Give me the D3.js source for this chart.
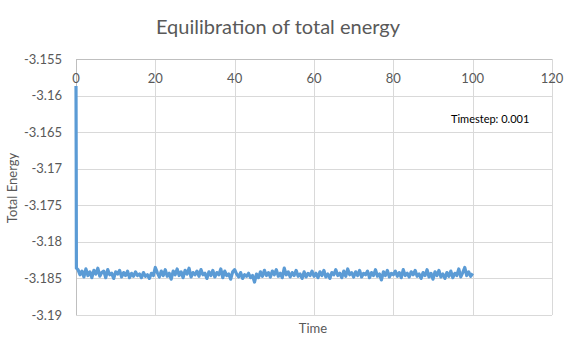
<!DOCTYPE html>
<html>
<head>
<meta charset="utf-8">
<script src="https://cdn.jsdelivr.net/npm/d3@7"></script>
<style>
  body { margin: 0; background: #fff; }
  text { font-family: Lato, "Open Sans", sans-serif; fill: #595959; }
</style>
</head>
<body>
<div id="chart"></div>
<script>
// the fast initial drop
const startTime = [0, 0.05, 0.1];
const startEnergy = [-3.1587, -3.1682, -3.1836];

// equilibrium part, sampled every 0.5 time units from t = 0.5
const timeStep = 0.5;
const energy = [
  -3.1838, -3.1845, -3.1840, -3.1848, -3.1837, -3.1846, -3.1841, -3.1849, -3.1839, -3.1844,
  -3.1836, -3.1847, -3.1842, -3.1840, -3.1849, -3.1838, -3.1845, -3.1843, -3.1850, -3.1841,
  -3.1844, -3.1839, -3.1848, -3.1842, -3.1846, -3.1840, -3.1849, -3.1843, -3.1847, -3.1841,
  -3.1846, -3.1844, -3.1849, -3.1842, -3.1847, -3.1845, -3.1850, -3.1843, -3.1846, -3.1835,
  -3.1842, -3.1848, -3.1840, -3.1846, -3.1838, -3.1847, -3.1843, -3.1851, -3.1840, -3.1845,
  -3.1837, -3.1846, -3.1841, -3.1849, -3.1839, -3.1844, -3.1836, -3.1848, -3.1842, -3.1845,
  -3.1840, -3.1847, -3.1838, -3.1845, -3.1843, -3.1850, -3.1841, -3.1846, -3.1839, -3.1848,
  -3.1842, -3.1845, -3.1837, -3.1849, -3.1840, -3.1846, -3.1844, -3.1851, -3.1841, -3.1838,
  -3.1844, -3.1848, -3.1842, -3.1850, -3.1845, -3.1847, -3.1843, -3.1849, -3.1846, -3.1855,
  -3.1844, -3.1849, -3.1841, -3.1847, -3.1839, -3.1846, -3.1842, -3.1848, -3.1840, -3.1845,
  -3.1838, -3.1847, -3.1843, -3.1849, -3.1836, -3.1845, -3.1841, -3.1848, -3.1842, -3.1846,
  -3.1839, -3.1847, -3.1844, -3.1850, -3.1841, -3.1848, -3.1843, -3.1846, -3.1840, -3.1847,
  -3.1843, -3.1849, -3.1841, -3.1846, -3.1839, -3.1848, -3.1844, -3.1850, -3.1842, -3.1845,
  -3.1838, -3.1846, -3.1843, -3.1849, -3.1840, -3.1847, -3.1837, -3.1845, -3.1842, -3.1848,
  -3.1841, -3.1846, -3.1839, -3.1848, -3.1843, -3.1845, -3.1840, -3.1849, -3.1842, -3.1846,
  -3.1838, -3.1847, -3.1844, -3.1852, -3.1841, -3.1846, -3.1839, -3.1848, -3.1843, -3.1845,
  -3.1840, -3.1847, -3.1842, -3.1849, -3.1838, -3.1846, -3.1843, -3.1848, -3.1841, -3.1845,
  -3.1839, -3.1847, -3.1844, -3.1850, -3.1842, -3.1846, -3.1838, -3.1848, -3.1843, -3.1851,
  -3.1841, -3.1846, -3.1839, -3.1848, -3.1844, -3.1850, -3.1842, -3.1847, -3.1840, -3.1849,
  -3.1843, -3.1846, -3.1837, -3.1848, -3.1842, -3.1835, -3.1846, -3.1841, -3.1847, -3.1843
];
const xTicks = [0, 20, 40, 60, 80, 100, 120];
const yTicks = [-3.155, -3.16, -3.165, -3.17, -3.175, -3.18, -3.185, -3.19];

const series = startTime.map((t, i) => ({ t, e: startEnergy[i] }))
  .concat(energy.map((e, i) => ({ t: (i + 1) * timeStep, e })));

const width = 571, height = 351;
const margin = { top: 59, right: 19, bottom: 36, left: 76 };

const svg = d3.select("#chart").append("svg")
  .attr("width", width)
  .attr("height", height);

const x = d3.scaleLinear().domain([0, 120]).range([margin.left, width - margin.right]);
const y = d3.scaleLinear().domain([-3.155, -3.19]).range([margin.top, height - margin.bottom]);

// gridlines
svg.append("g")
  .selectAll("line")
  .data(yTicks)
  .join("line")
  .attr("x1", x(0)).attr("x2", x(120))
  .attr("y1", d => Math.round(y(d)) + 0.5).attr("y2", d => Math.round(y(d)) + 0.5)
  .attr("stroke", "#d9d9d9");

svg.append("g")
  .selectAll("line")
  .data(xTicks)
  .join("line")
  .attr("y1", y(-3.155)).attr("y2", y(-3.19))
  .attr("x1", d => Math.round(x(d)) + 0.5).attr("x2", d => Math.round(x(d)) + 0.5)
  .attr("stroke", d => d === 0 ? "#bfbfbf" : "#d9d9d9");

// horizontal axis sits on top, since it crosses at -3.155
svg.append("line")
  .attr("x1", x(0)).attr("x2", x(120))
  .attr("y1", Math.round(y(-3.155)) + 0.5).attr("y2", Math.round(y(-3.155)) + 0.5)
  .attr("stroke", "#bfbfbf");

// tick labels
svg.append("g")
  .selectAll("text")
  .data(yTicks)
  .join("text")
  .attr("x", margin.left - 14)
  .attr("y", d => y(d))
  .attr("dy", "0.35em")
  .attr("text-anchor", "end")
  .attr("font-size", 13)
  .text(d => d);

svg.append("g")
  .selectAll("text")
  .data(xTicks)
  .join("text")
  .attr("x", d => x(d))
  .attr("y", y(-3.155) + 19)
  .attr("dy", "0.35em")
  .attr("text-anchor", "middle")
  .attr("font-size", 13)
  .text(d => d);

// series
const line = d3.line()
  .x(d => x(d.t))
  .y(d => y(d.e));

svg.append("path")
  .datum(series)
  .attr("fill", "none")
  .attr("stroke", "#5b9bd5")
  .attr("stroke-width", 3.2)
  .attr("stroke-linejoin", "round")
  .attr("d", line);

// titles
svg.append("text")
  .attr("x", 278)
  .attr("y", 27)
  .attr("dy", "0.35em")
  .attr("text-anchor", "middle")
  .attr("font-size", 20)
  .text("Equilibration of total energy");

svg.append("text")
  .attr("x", 313)
  .attr("y", 328)
  .attr("dy", "0.35em")
  .attr("text-anchor", "middle")
  .attr("font-size", 13)
  .text("Time");

svg.append("text")
  .attr("transform", "translate(12,188) rotate(-90)")
  .attr("dy", "0.35em")
  .attr("text-anchor", "middle")
  .attr("font-size", 13)
  .text("Total Energy");

svg.append("text")
  .attr("x", 451)
  .attr("y", 119)
  .attr("dy", "0.35em")
  .attr("font-size", 11)
  .style("fill", "#000")
  .text("Timestep: 0.001");
</script>
</body>
</html>
